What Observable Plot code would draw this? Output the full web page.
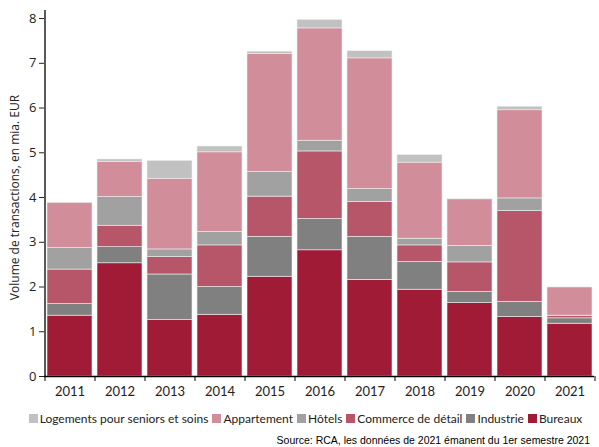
<!DOCTYPE html>
<html><head><meta charset="utf-8">
<script src="https://cdn.jsdelivr.net/npm/d3@7"></script>
<script src="https://cdn.jsdelivr.net/npm/@observablehq/plot@0.6"></script>
<style>
body{margin:0;background:#fff;font-family:Lato,sans-serif;}
#wrap{width:599px;}
.legend{display:flex;justify-content:center;gap:4px;font-size:12px;color:#222;margin-top:6px;padding-left:12px;font-family:Lato,sans-serif;}
.legend span{display:flex;align-items:center;}
.legend i{display:inline-block;width:9px;height:9px;margin-right:2px;}
.source{text-align:right;font-family:"Liberation Sans",Arial,sans-serif;font-size:10.5px;color:#000;padding-right:9px;margin-top:8px;}
</style></head>
<body><div id="wrap"></div>
<script>
const years = ["2011","2012","2013","2014","2015","2016","2017","2018","2019","2020","2021"];
const seriesNames = ["Bureaux","Industrie","Commerce de détail","Hôtels","Appartement","Logements pour seniors et soins"];
const colors = ["#A01C36","#808080","#B85669","#A1A1A1","#D18D99","#C1C1C1"];
const bureaux     = [1.36,2.53,1.26,1.38,2.23,2.82,2.16,1.94,1.64,1.33,1.18];
const industrie   = [0.26,0.36,1.02,0.62,0.89,0.70,0.96,0.62,0.25,0.34,0.12];
const commerce    = [0.77,0.48,0.39,0.93,0.90,1.51,0.78,0.37,0.66,2.03,0.05];
const hotels      = [0.48,0.64,0.17,0.30,0.55,0.24,0.29,0.15,0.37,0.28,0.01];
const appartement = [1.01,0.79,1.58,1.78,2.64,2.51,2.92,1.70,1.04,1.97,0.63];
const seniors     = [0.00,0.05,0.40,0.13,0.05,0.19,0.16,0.17,0.01,0.08,0.00];
const yTicks = [0,1,2,3,4,5,6,7,8];
const yLabel = "Volume de transactions, en mia. EUR";
const sourceText = "Source: RCA, les données de 2021 émanent du 1er semestre 2021";

const valuesBySeries = [bureaux,industrie,commerce,hotels,appartement,seniors];
const data = [];
seriesNames.forEach((s,si)=>years.forEach((y,yi)=>data.push({year:y,series:s,value:valuesBySeries[si][yi]})));

const W=599, H=405, ml=44, mr=5, mt=10, mb=29;
const step = (W-ml-mr)/years.length;

const plot = Plot.plot({
  width: W, height: H,
  marginLeft: ml, marginRight: mr, marginTop: mt, marginBottom: mb,
  style: {fontFamily: "Lato, sans-serif", fontSize: "12px", color: "#222", background: "#fff"},
  x: {type: "band", domain: years, paddingInner: 0.1, paddingOuter: 0.05, label: null},
  y: {domain: [0, 8.18], label: null},
  color: {domain: seriesNames, range: colors},
  marks: [
    Plot.barY(data, {x: "year", y: "value", fill: "series", order: seriesNames, stroke: "#eee", strokeWidth: 0.6}),
    Plot.axisY({ticks: yTicks, tickSize: 5, tickPadding: 3, fontSize: 13, fontFamily: "Open Sans, sans-serif", label: null}),
    Plot.text([yLabel], {frameAnchor: "left", dx: -29, rotate: -90, textAnchor: "middle", text: d => d, fontSize: 12, fontFamily: "Open Sans, sans-serif", y: d => 4.0}),
    Plot.axisX({tickSize: 0, tickPadding: 10, fontSize: 13, label: null}),
    Plot.ruleY([0], {stroke: "#000", strokeWidth: 1.3}),
    Plot.ruleX([years[0]], {x: d => d, dx: -step/2, y1: 0, y2: 8.18, stroke: "#000", strokeWidth: 1.3}),
    Plot.ruleX(years, {x: d => d, dx: -step/2, y1: 0, y2: 0, insetBottom: -5, stroke: "#000"}),
    Plot.ruleX([years[years.length-1]], {x: d => d, dx: step/2, y1: 0, y2: 0, insetBottom: -5, stroke: "#000"})
  ]
});
const wrap = document.getElementById("wrap");
wrap.appendChild(plot);

const legend = document.createElement("div");
legend.className = "legend";
const legendOrder = [...seriesNames].reverse();
legendOrder.forEach(s => {
  const sp = document.createElement("span");
  const sw = document.createElement("i");
  sw.style.background = colors[seriesNames.indexOf(s)];
  sp.appendChild(sw);
  sp.appendChild(document.createTextNode(s));
  legend.appendChild(sp);
});
wrap.appendChild(legend);
const src = document.createElement("div");
src.className = "source";
src.textContent = sourceText;
wrap.appendChild(src);
</script>
</body></html>
